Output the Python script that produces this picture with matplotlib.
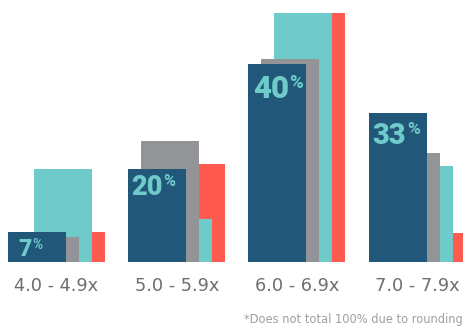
import numpy as np
import matplotlib.pyplot as plt

categories = ["4.0 - 4.9x", "5.0 - 5.9x", "6.0 - 6.9x", "7.0 - 7.9x"]
pct_labels = ["7", "20", "40", "33"]

# bar heights (same scale for all series)
navy_vals = [6.1, 18.8, 40.0, 30.1]
gray_vals = [5.0, 24.4, 40.9, 22.0]
teal_vals = [18.8, 8.7, 50.3, 19.4]
red_vals = [6.1, 19.8, 50.3, 5.9]

NAVY = "#215778"
GRAY = "#939498"
TEAL = "#6ecbc9"
RED = "#ff5a4f"

fig = plt.figure(figsize=(4.64, 3.26), dpi=100)
ax = fig.add_axes([0, 64 / 326, 1, 262 / 326])

px = 120.2  # pixels per group
w = 58 / px
off = 13 / px
x = np.arange(len(categories))
left = x - (w + 3 * off) / 2

# back to front: red, teal, gray, navy
series = [(red_vals, RED), (teal_vals, TEAL), (gray_vals, GRAY), (navy_vals, NAVY)]
for k, (vals, col) in enumerate(series):
    j = 3 - k
    ax.bar(left + j * off, vals, width=w, align="edge", color=col, zorder=k + 1)

ax.set_xlim(-56.5 / px, -56.5 / px + 464 / px)
ax.set_ylim(0, 262 / 4.96)

ax.set_xticks(x, categories)
ax.tick_params(axis="x", length=0, pad=10.6, labelsize=12.8, labelcolor="#6d6e71")
ax.set_yticks([])
for s in ax.spines.values():
    s.set_visible(False)

# percentage labels on the navy bars
sizes = [16.5, 19.5, 22.5, 21]
dxs = [10, 3, 4.5, 4]
dys = [6, 5.5, 10, 9.5]
for i in range(len(categories)):
    t = ax.annotate(pct_labels[i], xy=(left[i], navy_vals[i]),
                    xytext=(dxs[i] * 0.72, -dys[i] * 0.72), textcoords="offset points",
                    ha="left", va="top", fontsize=sizes[i], fontweight="black",
                    family="Roboto", color=TEAL, zorder=10)
    ax.annotate("%", xy=(1, 1), xycoords=t, xytext=(0.5, 0), textcoords="offset points",
                ha="left", va="top", fontsize=sizes[i] * 0.6, fontweight="bold",
                family="Roboto", color=TEAL, zorder=10)

fig.text(463 / 464, 1 - 320 / 326, "*Does not total 100% due to rounding",
         ha="right", va="center", fontsize=8.3, color="#a0a0a0")

fig.savefig("out.png", dpi=100)
